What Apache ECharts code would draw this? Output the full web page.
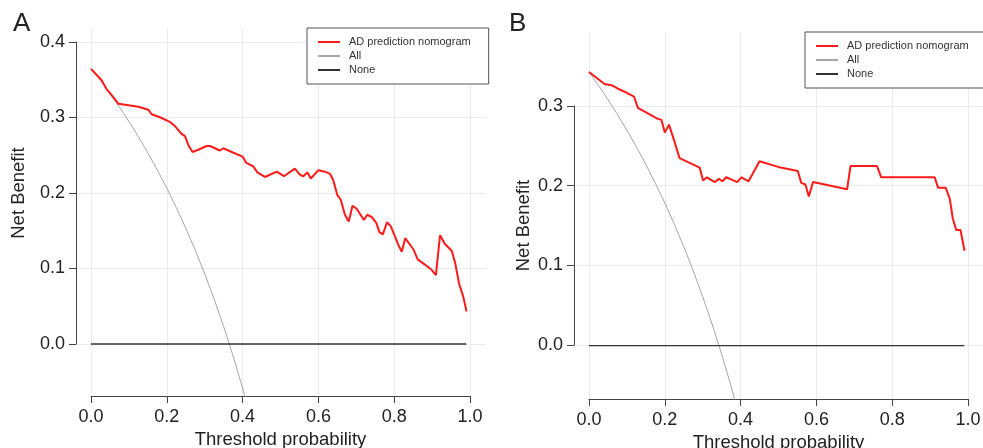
<!DOCTYPE html>
<html>
<head>
<meta charset="utf-8">
<script src="https://cdn.jsdelivr.net/npm/echarts@6/dist/echarts.min.js"></script>
<style>html,body{margin:0;padding:0;background:#fff}#main{width:983px;height:448px}</style>
</head>
<body>
<div id="main"></div>
<script>
// panel A - decision curve
var thrA = [0, 0.028, 0.040, 0.055, 0.072, 0.125, 0.151, 0.160, 0.182, 0.208, 0.222, 0.239, 0.248, 0.257, 0.268, 0.283, 0.305, 0.314, 0.340, 0.349, 0.376, 0.400, 0.409, 0.428, 0.439, 0.459, 0.490, 0.509, 0.538, 0.551, 0.560, 0.571, 0.580, 0.600, 0.617, 0.631, 0.639, 0.650, 0.659, 0.670, 0.680, 0.690, 0.701, 0.720, 0.729, 0.741, 0.753, 0.761, 0.770, 0.781, 0.791, 0.811, 0.820, 0.829, 0.851, 0.862, 0.881, 0.897, 0.910, 0.921, 0.933, 0.952, 0.961, 0.971, 0.982, 0.991];
var nbA = [0.364, 0.349, 0.338, 0.329, 0.318, 0.314, 0.310, 0.304, 0.300, 0.294, 0.288, 0.278, 0.275, 0.263, 0.254, 0.257, 0.262, 0.262, 0.256, 0.259, 0.253, 0.248, 0.240, 0.235, 0.227, 0.221, 0.228, 0.222, 0.232, 0.224, 0.222, 0.227, 0.219, 0.230, 0.228, 0.225, 0.217, 0.197, 0.191, 0.171, 0.162, 0.183, 0.179, 0.164, 0.171, 0.168, 0.160, 0.148, 0.145, 0.161, 0.156, 0.131, 0.122, 0.140, 0.125, 0.112, 0.105, 0.099, 0.091, 0.144, 0.133, 0.123, 0.107, 0.080, 0.063, 0.043];
var allThrA = [0, 0.025, 0.05, 0.075, 0.1, 0.125, 0.15, 0.175, 0.2, 0.225, 0.25, 0.275, 0.3, 0.325, 0.35, 0.375, 0.4, 0.425];
var allNbA = [0.365, 0.3487, 0.3316, 0.3135, 0.2944, 0.2743, 0.2529, 0.2303, 0.2063, 0.1806, 0.1533, 0.1241, 0.0929, 0.0593, 0.0231, -0.016, -0.0583, -0.1044];

// panel B
var thrB = [0, 0.019, 0.041, 0.062, 0.081, 0.099, 0.107, 0.119, 0.129, 0.178, 0.191, 0.200, 0.211, 0.226, 0.239, 0.292, 0.301, 0.311, 0.332, 0.343, 0.352, 0.362, 0.391, 0.402, 0.421, 0.450, 0.499, 0.551, 0.560, 0.571, 0.580, 0.591, 0.681, 0.690, 0.760, 0.771, 0.912, 0.921, 0.941, 0.952, 0.960, 0.969, 0.980, 0.991];
var nbB = [0.343, 0.336, 0.328, 0.326, 0.321, 0.317, 0.315, 0.312, 0.298, 0.285, 0.283, 0.267, 0.277, 0.255, 0.235, 0.223, 0.207, 0.211, 0.205, 0.209, 0.206, 0.211, 0.205, 0.211, 0.206, 0.231, 0.224, 0.219, 0.204, 0.202, 0.187, 0.205, 0.196, 0.225, 0.225, 0.211, 0.211, 0.198, 0.198, 0.184, 0.159, 0.145, 0.145, 0.119];
var allThrB = [0, 0.025, 0.05, 0.075, 0.1, 0.125, 0.15, 0.175, 0.2, 0.225, 0.25, 0.275, 0.3, 0.325, 0.35, 0.375, 0.4];
var allNbB = [0.343, 0.3262, 0.3084, 0.2897, 0.270, 0.2491, 0.2271, 0.2036, 0.1788, 0.1523, 0.124, 0.0938, 0.0614, 0.0267, -0.0108, -0.0512, -0.095];

var noneThr = [0, 0.99];
var noneNb = [0, 0];

var seriesNames = ['AD prediction nomogram', 'All', 'None'];
var FONT = '"Liberation Sans", Arial, Helvetica, sans-serif';

function zip(xs, ys) {
    return xs.map(function (x, i) { return [x, ys[i]]; });
}

var myChart = echarts.init(document.getElementById('main'));

var gridLine = { show: true, lineStyle: { color: '#ebebeb', width: 1 } };
var axLine = { show: true, onZero: false, lineStyle: { color: '#444', width: 1 } };
var tick = { show: true, length: 7, lineStyle: { color: '#444' } };
function fmt(v) { return v.toFixed(1); }

function xMain(grid) {
    return {
        gridIndex: grid, type: 'value', min: 0, max: 1, interval: 0.2,
        axisLine: axLine, axisTick: tick, splitLine: gridLine,
        axisLabel: { formatter: fmt, fontSize: 18, color: '#222', fontFamily: FONT, margin: 12 },
        name: 'Threshold probability', nameLocation: 'middle', nameGap: 31,
        nameTextStyle: { fontSize: 18.5, color: '#222', fontFamily: FONT }
    };
}
function yMain(grid, max, gap) {
    return {
        gridIndex: grid, type: 'value', min: 0, max: max, interval: 0.1,
        axisLine: axLine, axisTick: tick, splitLine: gridLine,
        axisLabel: { formatter: fmt, fontSize: 18, color: '#222', fontFamily: FONT, margin: 11 },
        name: 'Net Benefit', nameLocation: 'middle', nameGap: gap,
        nameTextStyle: { fontSize: 18.5, color: '#222', fontFamily: FONT }
    };
}
function hidden(grid, min, max) {
    return { gridIndex: grid, type: 'value', min: min, max: max, show: false,
             axisLine: { onZero: false }, splitLine: { show: false } };
}

function panelSeries(ax, thr, nb, allThr, allNb) {
    return [
        { name: 'All', type: 'line', xAxisIndex: ax, yAxisIndex: ax, data: zip(allThr, allNb),
          symbol: 'none', itemStyle: { color: '#a6a6a6' }, lineStyle: { color: '#a6a6a6', width: 1 }, z: 2 },
        { name: 'None', type: 'line', xAxisIndex: ax, yAxisIndex: ax, data: zip(noneThr, noneNb),
          symbol: 'none', itemStyle: { color: '#333' }, lineStyle: { color: '#333', width: 1.3 }, z: 3 },
        { name: 'AD prediction nomogram', type: 'line', xAxisIndex: ax, yAxisIndex: ax, data: zip(thr, nb),
          symbol: 'none', itemStyle: { color: '#ff1a1a' }, lineStyle: { color: '#ff1a1a', width: 2 }, z: 4 }
    ];
}

function legendAt(left, top) {
    return {
        left: left, top: top, orient: 'vertical', selectedMode: false,
        data: seriesNames, itemWidth: 22, itemHeight: 14, itemGap: 0,
        padding: [7, 18, 7, 10],
        borderColor: '#555', borderWidth: 1, backgroundColor: '#fff',
        itemStyle: { color: 'rgba(0,0,0,0)', borderWidth: 0, opacity: 0 },
        textStyle: { fontSize: 11, color: '#333', fontFamily: FONT, lineHeight: 14, padding: [0, 0, 0, 4] }
    };
}

function gridAt(left, top, width, height) {
    return { left: left, top: top, width: width, height: height, outerBoundsMode: 'none', containLabel: false };
}

option = {
    backgroundColor: '#ffffff',
    animation: false,
    grid: [
        gridAt(91, 28, 379, 368),
        gridAt(76, 42, 410, 302),
        gridAt(589, 32, 379, 367),
        gridAt(574, 106, 420, 239)
    ],
    xAxis: [xMain(0), hidden(1, 0, 1), xMain(2), hidden(3, 0, 1)],
    yAxis: [hidden(0, -0.0688, 0.4181), yMain(1, 0.4, 48), hidden(2, -0.0669, 0.3931), yMain(3, 0.3, 41)],
    legend: [legendAt(307, 28), legendAt(805, 32)],
    graphic: [
        { type: 'text', left: 13, top: 11, style: { text: 'A', fontSize: 26, fill: '#222', fontFamily: FONT } },
        { type: 'text', left: 509, top: 11, style: { text: 'B', fontSize: 26, fill: '#222', fontFamily: FONT } }
    ],
    series: panelSeries(0, thrA, nbA, allThrA, allNbA).concat(panelSeries(2, thrB, nbB, allThrB, allNbB))
};
myChart.setOption(option);
</script>
</body>
</html>
